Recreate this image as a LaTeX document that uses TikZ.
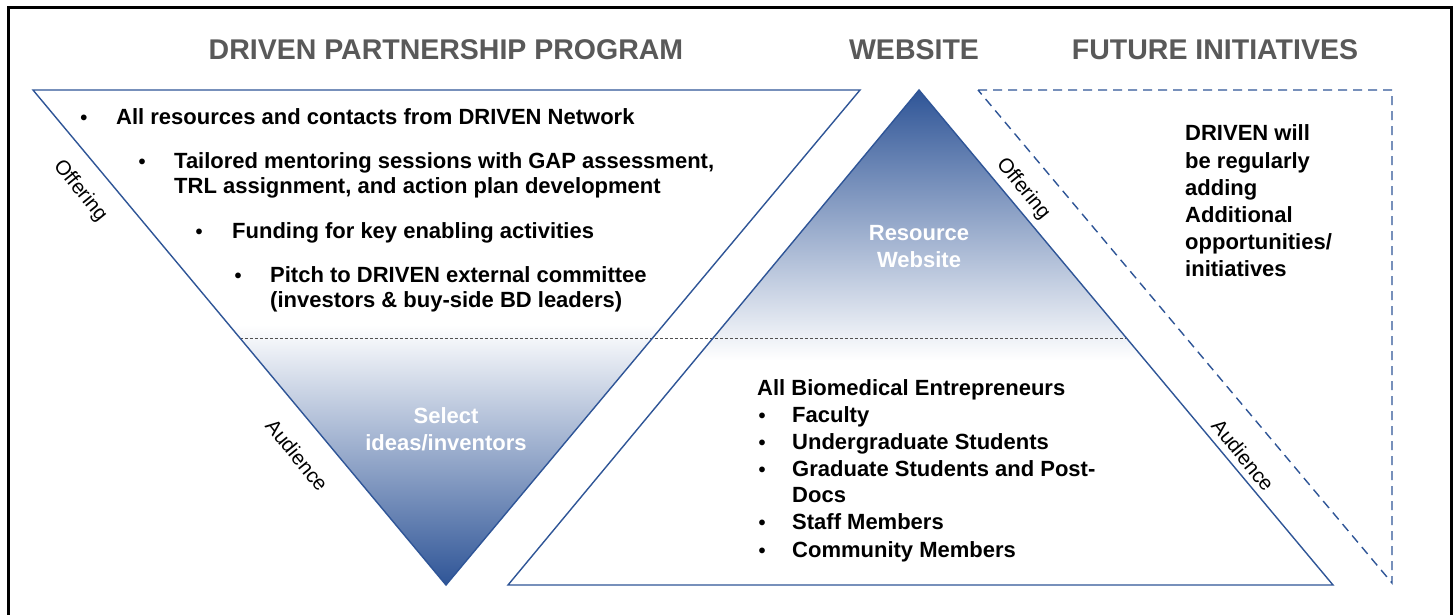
\documentclass[tikz,border=0pt]{standalone}
\usepackage{fontspec}
\setmainfont{Liberation Sans}
\usetikzlibrary{calc}
\definecolor{dblue}{HTML}{2F5597}
\definecolor{tgray}{HTML}{595959}
\definecolor{lgray}{HTML}{505050}
\begin{document}
\begin{tikzpicture}[x=1pt,y=-1pt,
  edge/.style={draw=dblue, line width=1.4pt, line join=miter},
  dashtri/.style={draw=dblue, line width=1.4pt, dash pattern=on 9pt off 6pt},
  midline/.style={draw=lgray, line width=0.9pt, dash pattern=on 3pt off 2pt},
  body/.style={font=\bfseries\fontsize{22}{25}\selectfont, inner sep=0pt, anchor=base west},
  bul/.style={font=\bfseries\fontsize{20}{25}\selectfont, inner sep=0pt, anchor=base},
  title/.style={font=\bfseries\fontsize{28.5}{30}\selectfont, text=tgray, inner sep=0pt, anchor=base},
  side/.style={font=\fontsize{20.5}{22}\selectfont, inner sep=0pt, rotate=-51},
  inner/.style={font=\bfseries\fontsize{22}{25}\selectfont, text=white, inner sep=0pt, anchor=base}]
\useasboundingbox (0,0) rectangle (1455,614);
\fill[white] (0,0) rectangle (1455,614);
% border
\draw[line width=3pt] (8,7) rectangle (1451,640);
% coordinates
\coordinate (A1) at (33,90);
\coordinate (A2) at (860,90);
\coordinate (A3) at (446,585);
\coordinate (B1) at (919,90);
\coordinate (B2) at (1333,585);
\coordinate (B3) at (508,585);
\coordinate (C1) at (978,90);
\coordinate (C2) at (1392,90);
\coordinate (C3) at (1392,583);
\coordinate (D1) at ($(A1)!0.501!(A3)$);
\coordinate (D2) at ($(B1)!0.501!(B2)$);
% shadings
\begin{scope}
  \clip (A1) -- (A2) -- (A3) -- cycle;
  \shade[top color=white, bottom color=dblue] (0,325) rectangle (900,585);
\end{scope}
\begin{scope}
  \clip (B1) -- (B2) -- (B3) -- cycle;
  \shade[top color=dblue, bottom color=white] (480,90) rectangle (1360,360);
\end{scope}
% dashed middle line
\draw[midline] (D1) -- (D2);
% outlines
\draw[edge] (A1) -- (A2) -- (A3) -- cycle;
\draw[edge] (B1) -- (B2) -- (B3) -- cycle;
\draw[dashtri] (C1) -- (C2) -- (C3) -- cycle;
% titles
\node[title] (t1) at (446,59) {DRIVEN PARTNERSHIP PROGRAM};
\node[title] (t2) at (914,59) {WEBSITE};
\node[title] (t3) at (1215,59) {FUTURE INITIATIVES};
% top list
\node[bul] (b1) at (84,124.5) {•};
\node[body] (l1) at (116,124.5) {All resources and contacts from DRIVEN Network};
\node[bul] (b2) at (142,168.5) {•};
\node[body] (l2) at (174,168.5) {Tailored mentoring sessions with GAP assessment,};
\node[body] (l2b) at (174,193.5) {TRL assignment, and action plan development};
\node[bul] (b3) at (199,238.5) {•};
\node[body] (l3) at (232,238.5) {Funding for key enabling activities};
\node[bul] (b4) at (238,282.5) {•};
\node[body] (l4) at (270,282.5) {Pitch to DRIVEN external committee};
\node[body] (l4b) at (270,307.5) {(investors \& buy-side BD leaders)};
% inner labels
\node[inner] (s1) at (446,423.5) {Select};
\node[inner] (s2) at (446,450.5) {ideas/inventors};
\node[inner] (r1) at (919,240.5) {Resource};
\node[inner] (r2) at (919,267.5) {Website};
% side labels
\node[side] (o1) at (80,191) {Offering};
\node[side] (a1) at (297,455) {Audience};
\node[side] (o2) at (1023,189) {Offering};
\node[side] (a2) at (1243,455) {Audience};
% future initiatives text
\node[body] (f1) at (1185,140.5) {DRIVEN will};
\node[body] (f2) at (1185,168) {be regularly};
\node[body] (f3) at (1185,195.5) {adding};
\node[body] (f4) at (1185,222.5) {Additional};
\node[body] (f5) at (1185,249.5) {opportunities/};
\node[body] (f6) at (1185,276.5) {initiatives};
% audience list
\node[body] (m0) at (757,395.5) {All Biomedical Entrepreneurs};
\node[bul] (mb1) at (762,422.5) {•};
\node[body] (m1) at (792,422.5) {Faculty};
\node[bul] (mb2) at (762,449.5) {•};
\node[body] (m2) at (792,449.5) {Undergraduate Students};
\node[bul] (mb3) at (762,476) {•};
\node[body] (m3) at (792,476) {Graduate Students and Post-};
\node[body] (m3b) at (792,502.5) {Docs};
\node[bul] (mb4) at (762,529.5) {•};
\node[body] (m4) at (792,529.5) {Staff Members};
\node[bul] (mb5) at (762,557) {•};
\node[body] (m5) at (792,557) {Community Members};
\end{tikzpicture}
\end{document}
